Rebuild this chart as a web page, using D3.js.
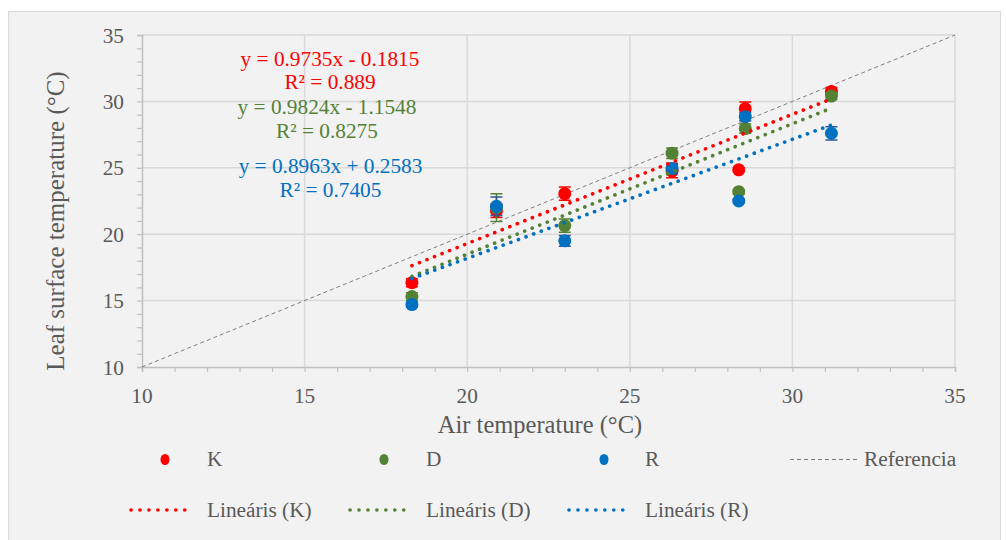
<!DOCTYPE html>
<html><head><meta charset="utf-8">
<script src="https://cdn.jsdelivr.net/npm/d3@7"></script>
</head><body style="margin:0;background:#fff">
<svg id="c" width="1006" height="540" style="display:block"></svg>
<script>
// ---- data ----
const airTemp = [18.3, 20.9, 23.0, 26.3, 28.35, 28.55, 31.2];
const kValues = [16.35, 21.75, 23.05, 24.75, 24.85, 29.45, 30.75];
const dValues = [15.3, 22.0, 20.65, 26.1, 23.2, 27.95, 30.4];
const rValues = [14.7, 22.1, 19.5, 24.95, 22.5, 28.85, 27.6];
const kErr = [0.3, 0.5, 0.5, 0.5, 0.15, 0.5, 0.3];
const dErr = [0.3, 1.05, 0.5, 0.4, 0.15, 0.35, 0.25];
const rErr = [0.2, 0.7, 0.4, 0.4, 0.15, 0.3, 0.5];
const seriesNames = ["K", "D", "R"];
const slopes = [0.9735, 0.9824, 0.8963];
const intercepts = [-0.1815, -1.1548, 0.2583];
const equationLabels = ["y = 0.9735x - 0.1815", "y = 0.9824x - 1.1548", "y = 0.8963x + 0.2583"];
const r2Labels = ["R² = 0.889", "R² = 0.8275", "R² = 0.7405"];
const xTicks = [10, 15, 20, 25, 30, 35];
const yTicks = [10, 15, 20, 25, 30, 35];
const xTitle = "Air temperature (°C)";
const yTitle = "Leaf surface temperature (°C)";
const refLabel = "Referencia";
const trendLegendLabels = ["Lineáris (K)", "Lineáris (D)", "Lineáris (R)"];

// ---- styles ----
const colors = ["#ff0000", "#548235", "#0070c0"];
const errColors = ["#ff0000", "#548235", "#2f5597"];
const txt = "#595959";
const FONT = '"Liberation Serif", "Times New Roman", serif';
const FS = 21.3;

const svg = d3.select("#c").style("font-family", FONT);
const T = () => svg.append("text").style("font-family", FONT);
svg.append("rect").attr("x", 8.5).attr("y", 11.5).attr("width", 992).attr("height", 535)
  .attr("fill", "#f2f2f2").attr("stroke", "#d9d9d9").attr("stroke-width", 1);

const x = d3.scaleLinear().domain([10, 35]).range([142, 955]);
const y = d3.scaleLinear().domain([10, 35]).range([367, 35]);

const g = svg.append("g");
g.selectAll(".gx").data(xTicks.slice(1)).join("line")
  .attr("x1", d => x(d)).attr("x2", d => x(d)).attr("y1", y(10)).attr("y2", y(35))
  .attr("stroke", "#d9d9d9").attr("stroke-width", 1.5);
g.selectAll(".gy").data(yTicks.slice(1)).join("line")
  .attr("y1", d => y(d)).attr("y2", d => y(d)).attr("x1", x(10)).attr("x2", x(35))
  .attr("stroke", "#d9d9d9").attr("stroke-width", 1.5);

const xAxis = d3.axisBottom(x).tickValues(d3.range(10, 36, 1)).tickSize(5).tickFormat("");
const yAxis = d3.axisLeft(y).tickValues(d3.range(10, 36, 1)).tickSize(5).tickFormat("");
const gx = svg.append("g").attr("transform", `translate(0,${y(10)})`).call(xAxis);
const gy = svg.append("g").attr("transform", `translate(${x(10)},0)`).call(yAxis);
[gx, gy].forEach(a => { a.select(".domain").attr("stroke", "#bfbfbf").attr("stroke-width", 1.5);
  a.selectAll(".tick line").attr("stroke", "#bfbfbf").attr("stroke-width", 1.2); });
xTicks.forEach(d => T().attr("x", x(d)).attr("y", 403).attr("text-anchor", "middle")
  .attr("font-size", FS).attr("fill", txt).text(d));
yTicks.forEach(d => T().attr("x", 124).attr("y", y(d) + 7.5).attr("text-anchor", "end")
  .attr("font-size", FS).attr("fill", txt).text(d));
T().attr("x", 540).attr("y", 433).attr("text-anchor", "middle")
  .attr("font-size", 24.5).attr("fill", txt).text(xTitle);
T().attr("transform", "translate(64,221) rotate(-90)").attr("text-anchor", "middle")
  .attr("font-size", 25).attr("fill", txt).text(yTitle);

svg.append("line").attr("x1", x(10)).attr("y1", y(10)).attr("x2", x(35)).attr("y2", y(35))
  .attr("stroke", "#7f7f7f").attr("stroke-width", 1).attr("stroke-dasharray", "4 3");

const vals = [kValues, dValues, rValues];
const errs = [kErr, dErr, rErr];
vals.forEach((vs, si) => {
  const data = airTemp.map((a, i) => ({ a, v: vs[i], e: errs[si][i] }));
  const s = svg.append("g");
  s.selectAll(".eb").data(data).join("path")
    .attr("d", d => `M${x(d.a)},${y(d.v - d.e)}V${y(d.v + d.e)}M${x(d.a) - 6},${y(d.v - d.e)}h12M${x(d.a) - 6},${y(d.v + d.e)}h12`)
    .attr("stroke", errColors[si]).attr("stroke-width", 1.5).attr("fill", "none");
  s.selectAll("circle").data(data).join("circle")
    .attr("cx", d => x(d.a)).attr("cy", d => y(d.v)).attr("r", 6.5).attr("fill", colors[si]);
});

const xMin = d3.min(airTemp), xMax = d3.max(airTemp);
slopes.forEach((m, si) => {
  const b = intercepts[si];
  svg.append("line").attr("x1", x(xMin)).attr("y1", y(m * xMin + b)).attr("x2", x(xMax)).attr("y2", y(m * xMax + b))
    .attr("stroke", colors[si]).attr("stroke-width", 3.6).attr("stroke-linecap", "round")
    .attr("stroke-dasharray", "0.1 8");
});

const eqY = [[66, 89], [114, 138], [173, 197]];
const eqX = [330, 327, 330.5];
equationLabels.forEach((t, i) => {
  T().attr("x", eqX[i]).attr("y", eqY[i][0]).attr("text-anchor", "middle")
    .attr("font-size", FS).attr("fill", colors[i]).text(t);
  T().attr("x", eqX[i]).attr("y", eqY[i][1]).attr("text-anchor", "middle")
    .attr("font-size", FS).attr("fill", colors[i]).text(r2Labels[i]);
});

const row1 = 459.5, row2 = 510;
const mx = [165, 384, 604], tx = [207, 426, 645];
seriesNames.forEach((n, i) => {
  svg.append("ellipse").attr("cx", mx[i]).attr("cy", row1).attr("rx", 4.5).attr("ry", 5.5).attr("fill", colors[i]);
  T().attr("x", tx[i]).attr("y", 466).attr("font-size", FS).attr("fill", txt).text(n);
});
svg.append("line").attr("x1", 790).attr("x2", 857).attr("y1", row1).attr("y2", row1)
  .attr("stroke", "#7f7f7f").attr("stroke-width", 1).attr("stroke-dasharray", "4 3");
T().attr("x", 864).attr("y", 466).attr("font-size", FS).attr("fill", txt).text(refLabel);
const lx = [131, 350, 569];
trendLegendLabels.forEach((t, i) => {
  svg.append("line").attr("x1", lx[i]).attr("x2", lx[i] + 62).attr("y1", row2).attr("y2", row2)
    .attr("stroke", colors[i]).attr("stroke-width", 3.6).attr("stroke-linecap", "round").attr("stroke-dasharray", "0.1 8.85");
  T().attr("x", tx[i]).attr("y", 516.5).attr("font-size", FS).attr("fill", txt).text(t);
});
</script>
</body></html>
